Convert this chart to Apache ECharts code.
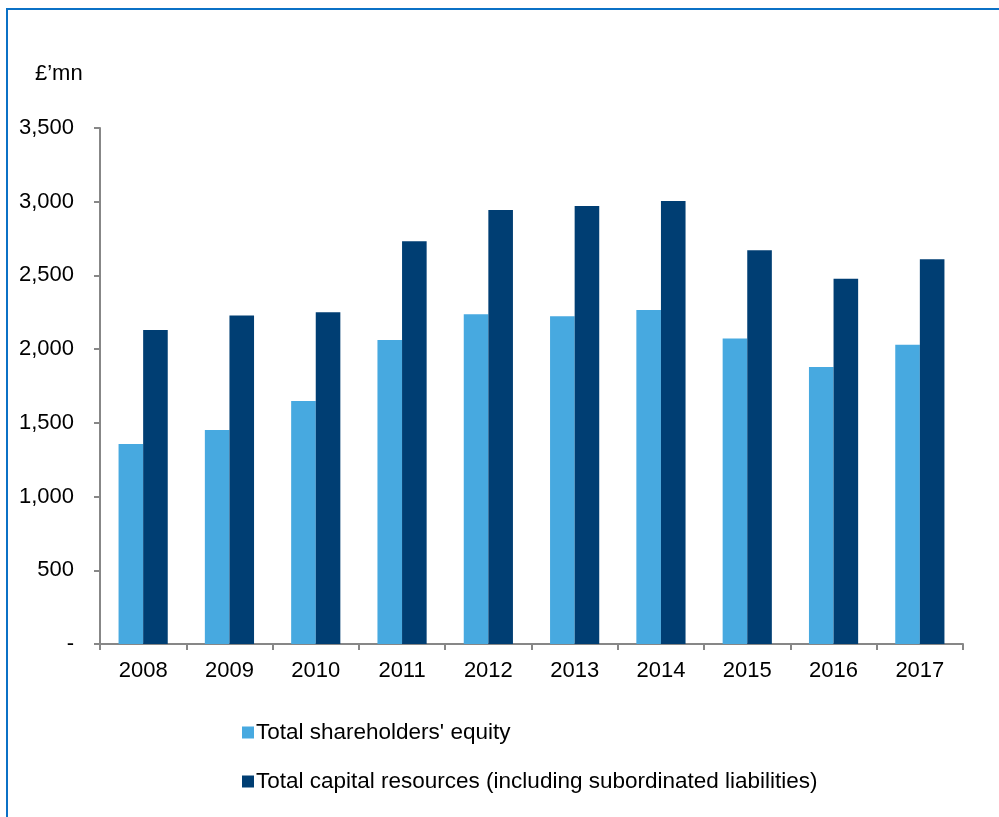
<!DOCTYPE html>
<html>
<head>
<meta charset="utf-8">
<script src="https://cdn.jsdelivr.net/npm/echarts@6/dist/echarts.min.js"></script>
<style>
  html, body { margin: 0; padding: 0; background: #ffffff; }
  #chart { width: 999px; height: 817px; }
</style>
</head>
<body>
<div id="chart"></div>
<script>
// Years on the category axis
var years = ['2008', '2009', '2010', '2011', '2012', '2013', '2014', '2015', '2016', '2017'];
// £ millions
var shareholdersEquity = [1357, 1451, 1648, 2062, 2236, 2223, 2265, 2073, 1879, 2030];
var capitalResources = [2130, 2229, 2250, 2731, 2944, 2971, 3005, 2670, 2478, 2609];
var seriesNames = ['Total shareholders\' equity', 'Total capital resources (including subordinated liabilities)'];
var unitLabel = '£’mn';

var FONT = 'Liberation Sans, Arial, sans-serif';
var chart = echarts.init(document.getElementById('chart'), null, { renderer: 'canvas' });

chart.setOption({
  backgroundColor: '#ffffff',
  animation: false,
  textStyle: { fontFamily: FONT },
  graphic: [
    {
      type: 'rect',
      shape: { x: 7, y: 9, width: 1100, height: 1000 },
      style: { fill: 'none', stroke: '#0B71C6', lineWidth: 2 },
      silent: true
    },
    {
      type: 'text',
      left: 35,
      top: 63,
      style: { text: unitLabel, font: '22px ' + FONT, fill: '#000000' }
    }
  ],
  grid: { left: 100, top: 128, right: 36, bottom: 173, containLabel: false },
  legend: {
    orient: 'vertical',
    left: 237,
    top: 716,
    itemWidth: 12,
    itemHeight: 12,
    itemGap: 26,
    icon: 'rect',
    textStyle: { fontSize: 22.5, color: '#000000', fontFamily: FONT, padding: [0, 0, 0, -3] },
    data: seriesNames
  },
  xAxis: {
    type: 'category',
    data: years,
    boundaryGap: true,
    axisLine: { lineStyle: { color: '#878787', width: 2 } },
    axisTick: { show: true, inside: false, length: 6, lineStyle: { color: '#878787', width: 2 } },
    axisLabel: { color: '#000000', fontSize: 22, margin: 16, fontFamily: FONT },
    splitLine: { show: false }
  },
  yAxis: {
    type: 'value',
    min: 0,
    max: 3500,
    interval: 500,
    axisLine: { show: true, lineStyle: { color: '#878787', width: 2 } },
    axisTick: { show: true, length: 6, lineStyle: { color: '#878787', width: 2 } },
    axisLabel: {
      color: '#000000',
      fontSize: 22,
      margin: 26,
      fontFamily: FONT,
      formatter: function (v) {
        if (v === 0) return '-';
        return v.toLocaleString('en-US');
      }
    },
    splitLine: { show: false }
  },
  series: [
    {
      name: seriesNames[0],
      type: 'bar',
      data: shareholdersEquity,
      barGap: '0%',
      barCategoryGap: '43%',
      itemStyle: { color: '#47A9E0' }
    },
    {
      name: seriesNames[1],
      type: 'bar',
      data: capitalResources,
      barGap: '0%',
      barCategoryGap: '43%',
      itemStyle: { color: '#003E73' }
    }
  ]
});
</script>
</body>
</html>
